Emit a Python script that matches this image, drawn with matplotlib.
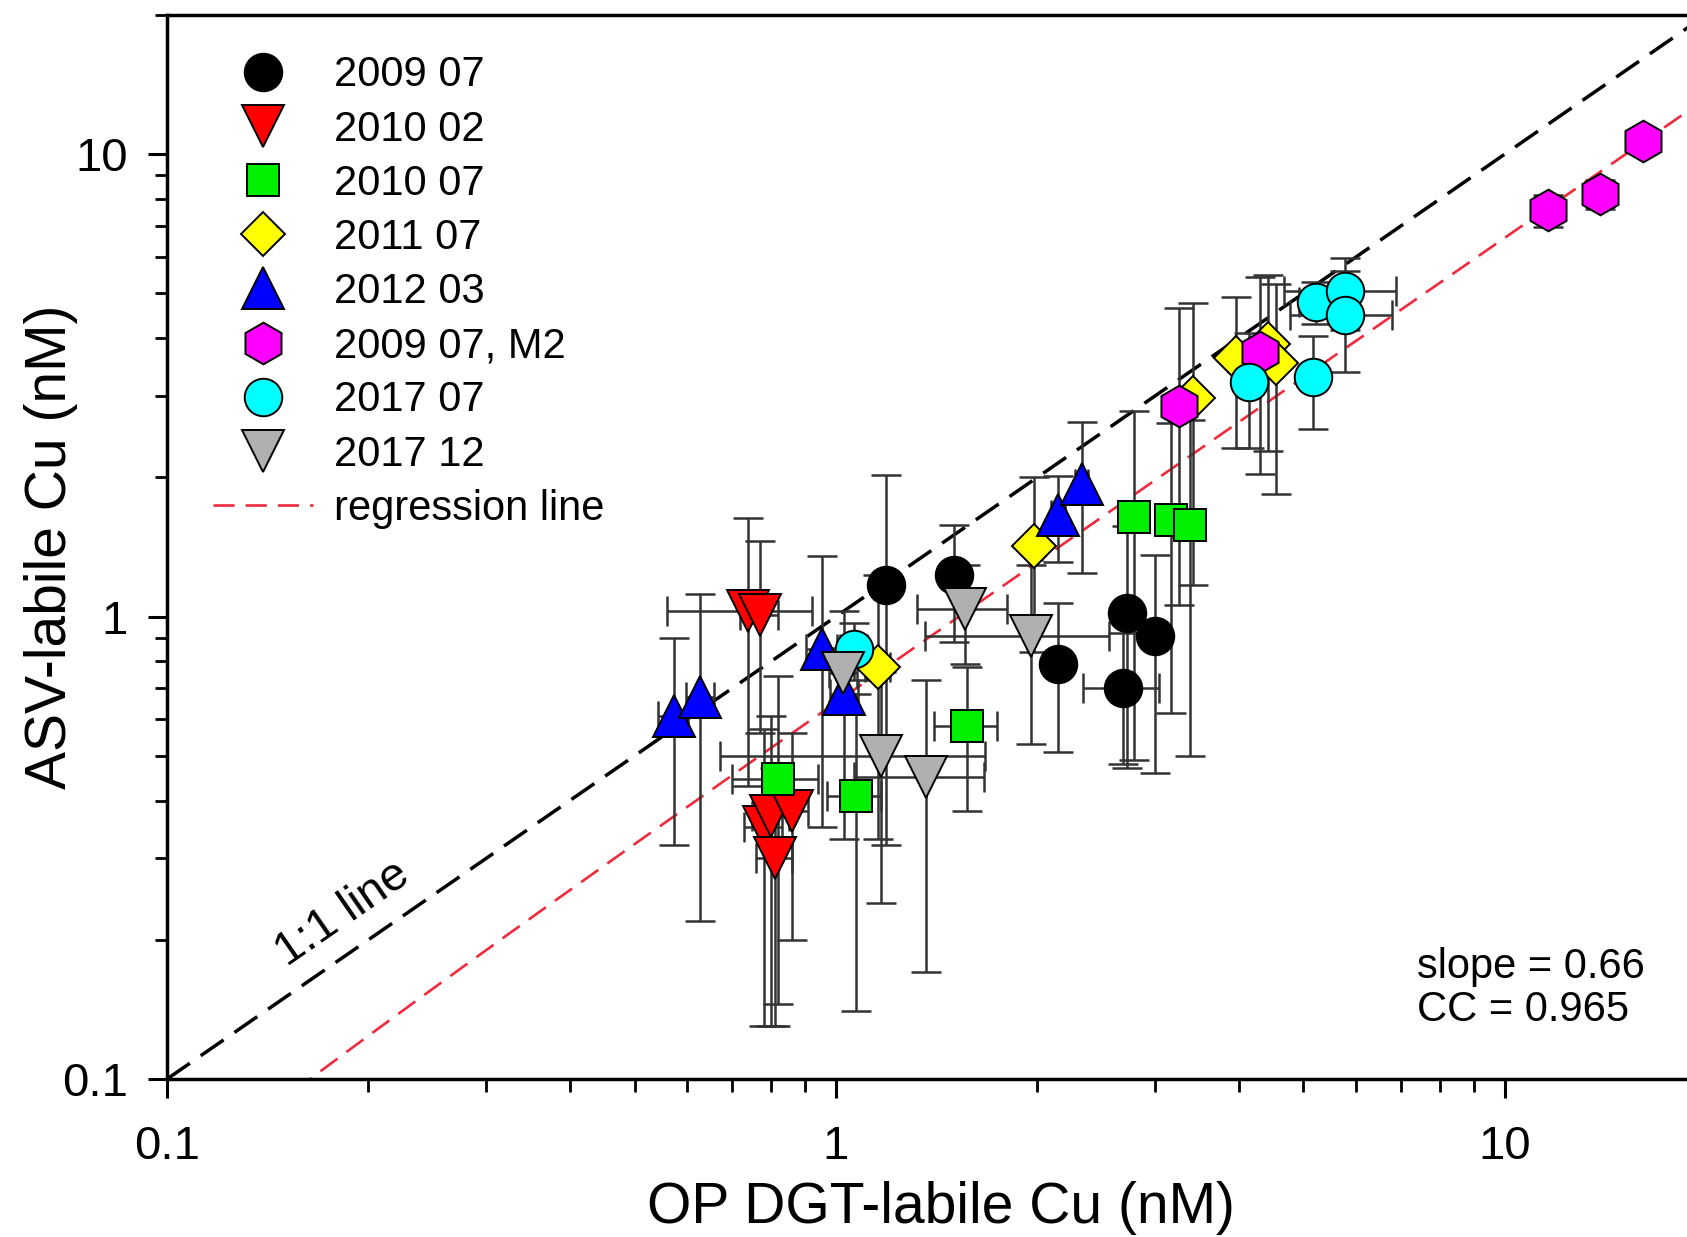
import matplotlib
matplotlib.use("Agg")
import matplotlib.pyplot as plt
import numpy as np

plt.rcParams['font.family'] = ['Liberation Sans', 'DejaVu Sans']

# ---- data ----
# each campaign: x, y, xerr, yerr (symmetric, linear units)
x_2009_07 = [1.19, 1.50, 2.15, 2.72, 3.00, 2.69]
y_2009_07 = [1.17, 1.23, 0.79, 1.02, 0.91, 0.70]
xe_2009_07 = [0.05, 0.05, 0.05, 0.05, 0.05, 0.35]
ye_2009_07 = [0.85, 0.35, 0.28, 0.55, 0.45, 0.22]

x_2010_02 = [0.74, 0.77, 0.78, 0.80, 0.86, 0.81]
y_2010_02 = [1.03, 1.01, 0.35, 0.37, 0.38, 0.30]
xe_2010_02 = [0.18, 0.05, 0.05, 0.05, 0.05, 0.05]
ye_2010_02 = [0.60, 0.45, 0.22, 0.24, 0.18, 0.17]

x_2010_07 = [0.82, 1.07, 1.57, 2.79, 3.17, 3.38]
y_2010_07 = [0.445, 0.41, 0.58, 1.64, 1.62, 1.58]
xe_2010_07 = [0.12, 0.10, 0.17, 0.05, 0.05, 0.05]
ye_2010_07 = [0.30, 0.27, 0.20, 1.15, 1.00, 1.08]

x_2011_07 = [1.98, 1.155, 3.42, 3.96, 4.43, 4.55]
y_2011_07 = [1.42, 0.78, 2.97, 3.62, 3.88, 3.54]
xe_2011_07 = [0.05, 0.05, 0.05, 0.10, 0.10, 0.10]
ye_2011_07 = [0.58, 0.45, 1.80, 1.30, 1.60, 1.70]

x_2012_03 = [0.572, 0.627, 0.953, 1.03, 2.15, 2.33]
y_2012_03 = [0.61, 0.67, 0.85, 0.68, 1.66, 1.94]
xe_2012_03 = [0.03, 0.03, 0.05, 0.05, 0.05, 0.05]
ye_2012_03 = [0.29, 0.45, 0.50, 0.35, 0.35, 0.70]

x_m2 = [3.26, 4.30, 11.6, 13.9, 16.1]
y_m2 = [2.86, 3.73, 7.57, 8.20, 10.7]
xe_m2 = [0.05, 0.05, 0.20, 0.20, 0.30]
ye_m2 = [1.80, 1.70, 0.60, 0.60, 0.60]

x_2017_07 = [1.065, 4.14, 5.17, 5.23, 5.78, 5.78]
y_2017_07 = [0.85, 3.21, 3.30, 4.80, 5.07, 4.48]
xe_2017_07 = [0.05, 0.10, 0.10, 0.30, 1.10, 1.00]
ye_2017_07 = [0.12, 0.90, 0.75, 0.50, 0.90, 1.10]

x_2017_12 = [1.026, 1.56, 1.96, 1.17, 1.365]
y_2017_12 = [0.757, 1.04, 0.91, 0.50, 0.45]
xe_2017_12 = [0.05, 0.24, 0.60, 0.50, 0.30]
ye_2017_12 = [0.10, 0.25, 0.38, 0.26, 0.28]

slope = 0.66
intercept = -0.008
cc = 0.965

series = [
    ("2009 07", x_2009_07, y_2009_07, xe_2009_07, ye_2009_07, 'o', 'black', 27),
    ("2010 02", x_2010_02, y_2010_02, xe_2010_02, ye_2010_02, 'v', '#ff0000', 30),
    ("2010 07", x_2010_07, y_2010_07, xe_2010_07, ye_2010_07, 's', '#00f000', 23),
    ("2011 07", x_2011_07, y_2011_07, xe_2011_07, ye_2011_07, 'D', '#ffff00', 22),
    ("2012 03", x_2012_03, y_2012_03, xe_2012_03, ye_2012_03, '^', '#0000ff', 30),
    ("2009 07, M2", x_m2, y_m2, xe_m2, ye_m2, 'h', '#ff00ff', 30),
    ("2017 07", x_2017_07, y_2017_07, xe_2017_07, ye_2017_07, 'o', '#00ffff', 27),
    ("2017 12", x_2017_12, y_2017_12, xe_2017_12, ye_2017_12, 'v', '#b0b0b0', 30),
]

fig = plt.figure(figsize=(16.87, 12.37), dpi=100)
ax = fig.add_axes([0.099, 0.1277, 0.9123, 0.8602])
ax.set_xscale('log')
ax.set_yscale('log')
ax.set_xlim(0.1, 20)
ax.set_ylim(0.1, 20)

# 1:1 line and regression line
lims = np.array([0.1, 20])
ax.plot(lims, lims, color='black', lw=2.5, dashes=(8, 3.8), zorder=1)
xr = np.logspace(-1, np.log10(20), 200)
reg, = ax.plot(xr, slope * xr + intercept, color='#ee2a3c', lw=1.9,
               dashes=(8, 4.2), zorder=1, label='regression line')

handles = []
for name, x, y, xe, ye, mk, col, ms in series:
    ax.errorbar(x, y, xerr=xe, yerr=ye, fmt='none', ecolor='#333333',
                elinewidth=1.8, capsize=11, capthick=1.8, zorder=2)
for name, x, y, xe, ye, mk, col, ms in series:
    h, = ax.plot(x, y, linestyle='none', marker=mk, ms=ms, mfc=col,
                 mec='black', mew=1.4, zorder=3, label=name)
    handles.append(h)
handles.append(reg)

leg = ax.legend(handles=handles, loc='upper left', bbox_to_anchor=(0.03, 0.962),
                frameon=False, fontsize=30, borderpad=0, borderaxespad=0,
                handlelength=2.4, handletextpad=0.5, labelspacing=0.34,
                numpoints=1)

ax.text(0.183, 0.228, "1:1 line", fontsize=34, rotation=34.7,
        rotation_mode='anchor', ha='center', va='center')
ax.text(0.812, 0.085, f"slope = {slope:.2f}\nCC = {cc:.3f}", transform=ax.transAxes,
        fontsize=30, ha='left', va='center', linespacing=1.1)

# axes styling
for s in ['left', 'bottom', 'top', 'right']:
    ax.spines[s].set_linewidth(2.5)
ax.tick_params(which='major', direction='out', length=14, width=2.2, labelsize=34)
ax.tick_params(which='minor', direction='out', length=9, width=2.0)
ax.tick_params(axis='x', which='major', pad=19)
ax.tick_params(axis='y', which='major', pad=14)
ax.set_xticks([0.1, 1, 10])
ax.set_xticklabels(['0.1', '1', '10'])
ax.set_yticks([0.1, 1, 10])
ax.set_yticklabels(['0.1', '1', '10'])

ax.set_xlabel("OP DGT-labile Cu (nM)", fontsize=41)
ax.set_ylabel("ASV-labile Cu (nM)", fontsize=41)
ax.xaxis.set_label_coords(0.503, -0.096)
ax.yaxis.set_label_coords(-0.058, 0.5)

fig.savefig("out.png", dpi=100)
